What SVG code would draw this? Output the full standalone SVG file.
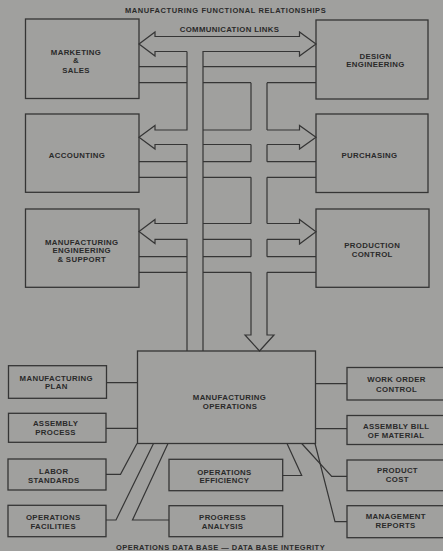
<svg xmlns="http://www.w3.org/2000/svg" width="443" height="551" viewBox="0 0 443 551">
<style>
.bg{fill:#a0a09e}
.box{fill:none;stroke:#353535;stroke-width:1.3}
.ln{fill:none;stroke:#353535;stroke-width:1.2;stroke-linejoin:miter}
text{font-family:"Liberation Sans",Arial,sans-serif;font-weight:bold;font-size:7.8px;fill:#2a2a2a;text-anchor:middle;letter-spacing:0.35px}
.cap{font-size:7.5px}
</style>
<rect class="bg" x="0" y="0" width="443" height="551"/>
<text class="cap" x="225.5" y="12.7" textLength="201">MANUFACTURING FUNCTIONAL RELATIONSHIPS</text>
<text x="229.5" y="31.5">COMMUNICATION LINKS</text>
<text class="cap" x="220.5" y="550.3" textLength="209">OPERATIONS DATA BASE — DATA BASE INTEGRITY</text>

<g id="connectors">
<path class="ln" d="M187,51.5 L155,51.5 L155,56 L139,44 L155,32 L155,36.5 L299.5,36.5 L299.5,32 L316,44 L299.5,56 L299.5,51.5 L203,51.5 L203,351"/>
<path class="ln" d="M187,51.5 L187,130 L155,130 L155,125.5 L139,137.3 L155,149 L155,144.5 L187,144.5 L187,223.5 L155,223.5 L155,219.5 L139,231.5 L155,243.5 L155,239.3 L187,239.3 L187,351"/>
<path class="ln" d="M139,66.7 H187 M139,82.7 H187 M139,161.7 H187 M139,177.3 H187 M139,256.7 H187 M139,272.3 H187"/>
<path class="ln" d="M203,66.7 H316 M203,82.7 H251 M267,82.7 H316"/>
<path class="ln" d="M251,82.7 V130 M251,144.5 V161.7 M251,177.3 V223.5 M251,239.3 V256.7 M267,82.7 V130 M267,144.5 V161.7 M267,177.3 V223.5 M267,239.3 V256.7"/>
<path class="ln" d="M203,130 H251 M203,144.5 H251 M267,130 L299.5,130 L299.5,125.5 L316,137.3 L299.5,149 L299.5,144.5 L267,144.5"/>
<path class="ln" d="M203,161.7 H251 M267,161.7 H316 M203,177.3 H251 M267,177.3 H316"/>
<path class="ln" d="M203,223.5 H251 M203,239.3 H251 M267,223.5 L299.5,223.5 L299.5,219.5 L316,231.8 L299.5,244 L299.5,239.3 L267,239.3"/>
<path class="ln" d="M203,256.7 H251 M267,256.7 H316 M203,272.3 H251 M267,272.3 H316"/>
<path class="ln" d="M251,272.3 L251,335 L245,335 L259.5,351 L274,335 L267,335 L267,272.3"/>
<path class="ln" d="M106.3,382.7 H137.5 M106,428.3 H137.5 M315.5,383.7 H347 M315.5,428.7 H347"/>
<path class="ln" d="M106,474.3 L120.5,474.3 L137,443.5"/>
<path class="ln" d="M106,520 L116,520 L153.5,443.5"/>
<path class="ln" d="M168,443.5 L132.5,520 L169,520"/>
<path class="ln" d="M287,443.5 L301.7,475.5 L282.7,475.5"/>
<path class="ln" d="M301.7,443.5 L331.7,476.3 L347,476.3"/>
<path class="ln" d="M315,443.5 L335,521.7 L347,521.7"/>
</g>

<g id="marketing-sales">
<rect class="box" x="25.5" y="19" width="113.5" height="79.5"/>
<text x="76" y="55.3">MARKETING</text>
<text x="76" y="63.3">&amp;</text>
<text x="76" y="72.7">SALES</text>
</g>
<g id="design-engineering">
<rect class="box" x="316" y="20" width="112" height="79"/>
<text x="375.5" y="58.7">DESIGN</text>
<text x="375.5" y="67">ENGINEERING</text>
</g>
<g id="accounting">
<rect class="box" x="25.5" y="114" width="113.5" height="78.3"/>
<text x="77" y="158.3">ACCOUNTING</text>
</g>
<g id="purchasing">
<rect class="box" x="316" y="114" width="112" height="78.5"/>
<text x="369.5" y="158.3">PURCHASING</text>
</g>
<g id="mfg-engineering-support">
<rect class="box" x="25.5" y="209" width="113.5" height="78.3"/>
<text x="81.7" y="244.7">MANUFACTURING</text>
<text x="81.7" y="253.3">ENGINEERING</text>
<text x="81.7" y="262">&amp; SUPPORT</text>
</g>
<g id="production-control">
<rect class="box" x="316" y="209" width="113" height="78.3"/>
<text x="372.2" y="248.3">PRODUCTION</text>
<text x="372.2" y="257">CONTROL</text>
</g>
<g id="manufacturing-operations">
<rect class="box" x="137.5" y="351" width="178" height="92.5"/>
<text x="229.5" y="400">MANUFACTURING</text>
<text x="230" y="408.7">OPERATIONS</text>
</g>
<g id="manufacturing-plan">
<rect class="box" x="8.5" y="365.7" width="98" height="32.6"/>
<text x="56.3" y="381">MANUFACTURING</text>
<text x="56.3" y="389.3">PLAN</text>
</g>
<g id="assembly-process">
<rect class="box" x="8.5" y="413.3" width="97.5" height="29"/>
<text x="55.6" y="426">ASSEMBLY</text>
<text x="55.6" y="434.7">PROCESS</text>
</g>
<g id="labor-standards">
<rect class="box" x="8" y="459" width="98" height="31"/>
<text x="53.8" y="474">LABOR</text>
<text x="53.8" y="482.7">STANDARDS</text>
</g>
<g id="operations-facilities">
<rect class="box" x="8" y="505.3" width="98" height="31.4"/>
<text x="53.2" y="520">OPERATIONS</text>
<text x="53.2" y="528.7">FACILITIES</text>
</g>
<g id="operations-efficiency">
<rect class="box" x="169" y="459.3" width="113.7" height="31.4"/>
<text x="224.4" y="474.7">OPERATIONS</text>
<text x="224.4" y="483.3">EFFICIENCY</text>
</g>
<g id="progress-analysis">
<rect class="box" x="169" y="505.7" width="113.7" height="31"/>
<text x="222.6" y="520">PROGRESS</text>
<text x="222.6" y="529">ANALYSIS</text>
</g>
<g id="work-order-control">
<rect class="box" x="347" y="367.5" width="100" height="32.5"/>
<text x="396.5" y="382">WORK ORDER</text>
<text x="396.5" y="391.7">CONTROL</text>
</g>
<g id="assembly-bill-of-material">
<rect class="box" x="347" y="415.5" width="100" height="29"/>
<text x="396.2" y="429.3">ASSEMBLY BILL</text>
<text x="396" y="437.7">OF MATERIAL</text>
</g>
<g id="product-cost">
<rect class="box" x="347" y="460" width="100" height="30.7"/>
<text x="397.5" y="473.3">PRODUCT</text>
<text x="397.3" y="482">COST</text>
</g>
<g id="management-reports">
<rect class="box" x="347" y="505.7" width="100" height="32"/>
<text x="395.8" y="519.3">MANAGEMENT</text>
<text x="395.6" y="528.3">REPORTS</text>
</g>
</svg>
